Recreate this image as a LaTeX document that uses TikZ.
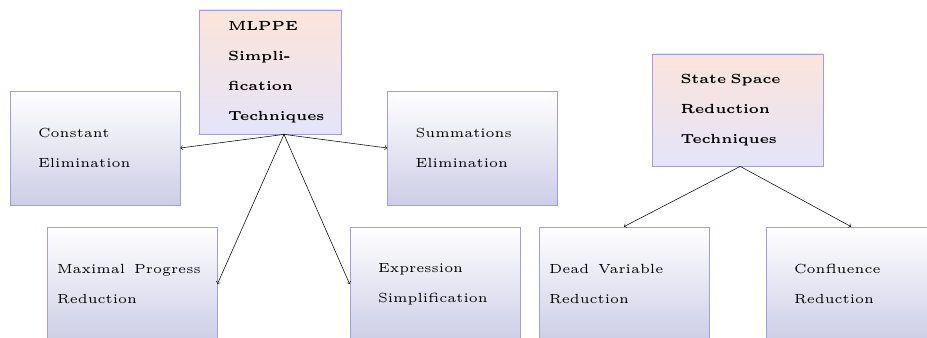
\documentclass[tikz,border=0pt]{standalone}
\usepackage{fontspec}
\newfontfamily\lmfive{lmroman5}[Extension=.otf, UprightFont=*-regular, BoldFont=*-bold]
\definecolor{boxline}{RGB}{160,158,222}
\definecolor{boxbot}{RGB}{205,205,230}
\definecolor{headtop}{RGB}{252,228,218}
\definecolor{headbot}{RGB}{228,228,250}
\newcommand\boxfont{\lmfive\fontsize{9.9}{22.5}\selectfont}
\newcommand\headfont{\lmfive\fontsize{9.9}{22.5}\selectfont\bfseries}

\begin{document}
\begin{tikzpicture}[x=0.75pt,y=-0.75pt,
  box/.style={draw=boxline, line width=0.6pt, top color=white, bottom color=boxbot, inner sep=0pt,
    minimum width=127.5pt, minimum height=85.5pt, text width=85.5pt, align=left, font=\boxfont},
  head/.style={box, top color=headtop, bottom color=headbot, font=\headfont}]
\useasboundingbox (0,0) rectangle (927,338);
\node[head, minimum width=106.5pt, minimum height=93pt, text width=63pt] (mlppe) at (270,72)
  {MLPPE\\ Simpli-\\ fication\\ Techniques};
\node[box] (const) at (95,148) {Constant\\ Elimination};
\node[box] (summ) at (472.5,148) {Summations\\ Elimination};
\node[box, text width=112.5pt] (maxp) at (132,284) {Maximal\ \ Progress\\ Reduction};
\node[box] (expr) at (435,284) {Expression\\ Simplification};
\node[head, minimum width=128.25pt, minimum height=84pt] (ssr) at (737.5,110)
  {State Space\\ Reduction\\ Techniques};
\node[box, text width=112.5pt] (dead) at (624,284) {Dead\ \ Variable\\ Reduction};
\node[box] (confl) at (851,284) {Confluence\\ Reduction};
\draw[->] ([xshift=10.5pt]mlppe.south) -- (const.east);
\draw[->] ([xshift=10.5pt]mlppe.south) -- (summ.west);
\draw[->] ([xshift=10.5pt]mlppe.south) -- (maxp.east);
\draw[->] ([xshift=10.5pt]mlppe.south) -- (expr.west);
\draw[->] ([xshift=2pt]ssr.south) -- (dead.north);
\draw[->] ([xshift=2pt]ssr.south) -- (confl.north);
\end{tikzpicture}
\end{document}
